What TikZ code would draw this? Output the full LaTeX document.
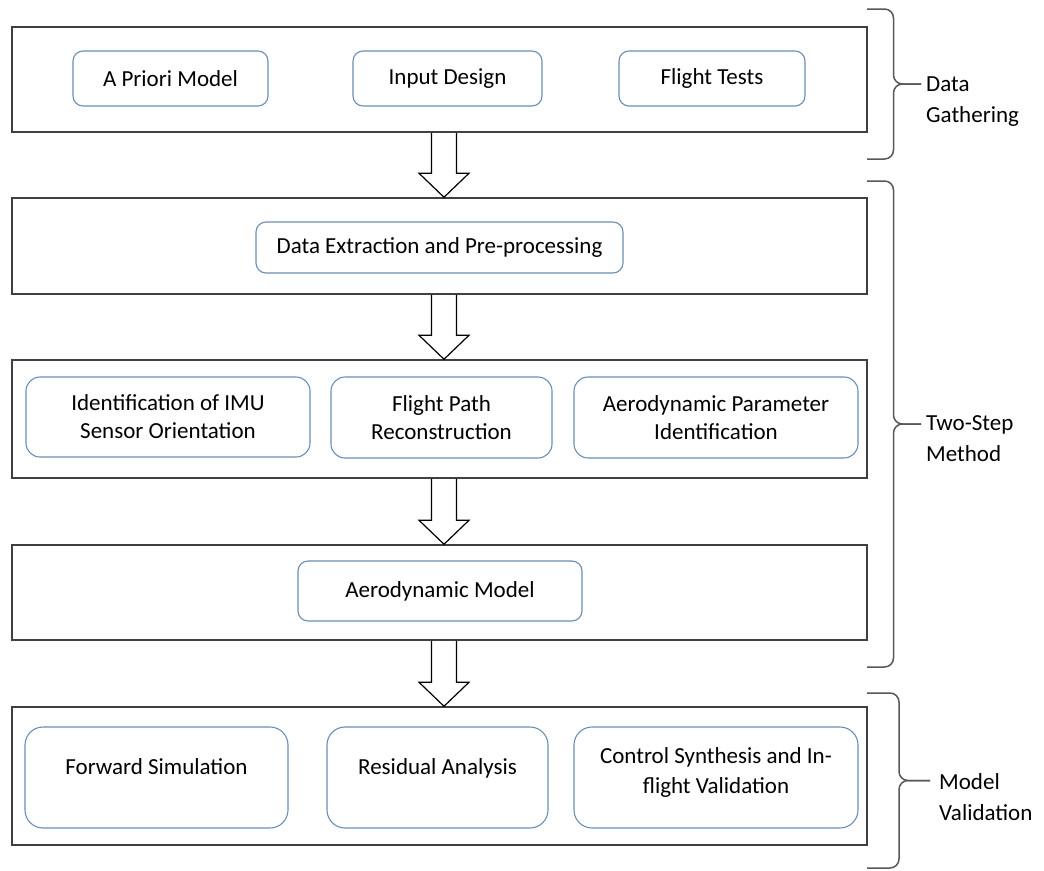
\documentclass[tikz,border=0pt]{standalone}
\usepackage{fontspec}
\setmainfont{Carlito}
\usetikzlibrary{calc}
\definecolor{framegray}{RGB}{64,64,64}
\definecolor{boxblue}{RGB}{108,142,178}
\definecolor{bracegray}{RGB}{88,88,88}
% hollow block arrow from the bottom of one stage to the top of the next
\newcommand{\hollowarrow}[2]{%
  \draw[hollow] ($(#1.south -| ax)+(-12.5,0)$) -- ($(#2.north -| ax)+(-12.5,24)$) -- ++(-12.5,0)
    -- (#2.north -| ax) -- ++(25,24) -- ++(-12.5,0) -- ($(#1.south -| ax)+(12.5,0)$);}
% right brace: top y, middle y, bottom y, stem x, tip x
\newcommand{\sidebrace}[5]{%
  \draw[bracel] (867,#1) -- (#4,#1) -- (#4,#2) -- (#5,#2);
  \draw[bracel] (867,#3) -- (#4,#3) -- (#4,#2) -- (#5,#2);}
\begin{document}
\begin{tikzpicture}[
    x=1pt, y=1pt,
    stage/.style={rectangle, draw=framegray, line width=1.5pt, minimum width=855pt},
    task/.style={rectangle, rounded corners=10pt, draw=boxblue, line width=1.1pt, align=center, font=\fontsize{23}{28}\selectfont},
    hollow/.style={line width=1.2pt, line join=miter},
    bracel/.style={draw=bracegray, line width=1.5pt, rounded corners=9pt},
    phase/.style={align=left, anchor=north west, inner sep=0pt, font=\fontsize{23}{31}\selectfont}
]
\useasboundingbox (0,0) rectangle (1044,-870);
\coordinate (ax) at (444,0);
% Stages from top to bottom
\node[stage, minimum height=105pt] (gather) at (439.5,-79.5) {};
\node[stage, minimum height=96pt] (extract) at (439.5,-246) {};
\node[stage, minimum height=118pt] (identify) at (439.5,-419) {};
\node[stage, minimum height=95pt] (aero) at (439.5,-592.5) {};
\node[stage, minimum height=138pt] (validate) at (439.5,-776) {};
% Tasks inside the stages
\node[task, minimum width=195pt, minimum height=55pt] (apriori) at (170.5,-78.5) {A Priori Model};
\node[task, minimum width=189pt, minimum height=55pt] (input) at (447.5,-78.5) {Input Design};
\node[task, minimum width=186pt, minimum height=55pt] (tests) at (712,-78.5) {Flight Tests};
\node[task, minimum width=367pt, minimum height=51pt] (preproc) at (439.5,-247.5) {Data Extraction and Pre-processing};
\node[task, rounded corners=14pt, minimum width=284pt, minimum height=80pt] (imu) at (168,-417) {Identification of IMU\\Sensor Orientation};
\node[task, rounded corners=14pt, minimum width=221pt, minimum height=81pt] (path) at (441.5,-417.5) {Flight Path\\Reconstruction};
\node[task, rounded corners=14pt, minimum width=284pt, minimum height=81pt] (param) at (716,-417.5) {Aerodynamic Parameter\\Identification};
\node[task, minimum width=284pt, minimum height=60pt] (model) at (440,-591) {Aerodynamic Model};
\node[task, rounded corners=18pt, minimum width=263pt, minimum height=101pt, text depth=22pt] (fwd) at (156.5,-777.5) {Forward Simulation};
\node[task, rounded corners=18pt, minimum width=221pt, minimum height=101pt, text depth=22pt] (resid) at (437.5,-777.5) {Residual Analysis};
\node[task, rounded corners=18pt, minimum width=284pt, minimum height=101pt, text depth=14pt, font=\fontsize{23}{30}\selectfont] (synth) at (716,-777.5) {Control Synthesis and In-\\flight Validation};
% Arrows between stages
\hollowarrow{gather}{extract}
\hollowarrow{extract}{identify}
\hollowarrow{identify}{aero}
\hollowarrow{aero}{validate}
% Braces and phase labels
\sidebrace{-9}{-84}{-159}{893.5}{921}
\sidebrace{-181}{-424}{-667}{893.5}{921}
\sidebrace{-693}{-780.5}{-868}{899}{930}
\node[phase] (gatherlbl) at (926,-76.5) {Data\\Gathering};
\node[phase] (twosteplbl) at (926,-415.5) {Two-Step\\Method};
\node[phase] (validlbl) at (939,-773.5) {Model\\Validation};
\end{tikzpicture}
\end{document}
